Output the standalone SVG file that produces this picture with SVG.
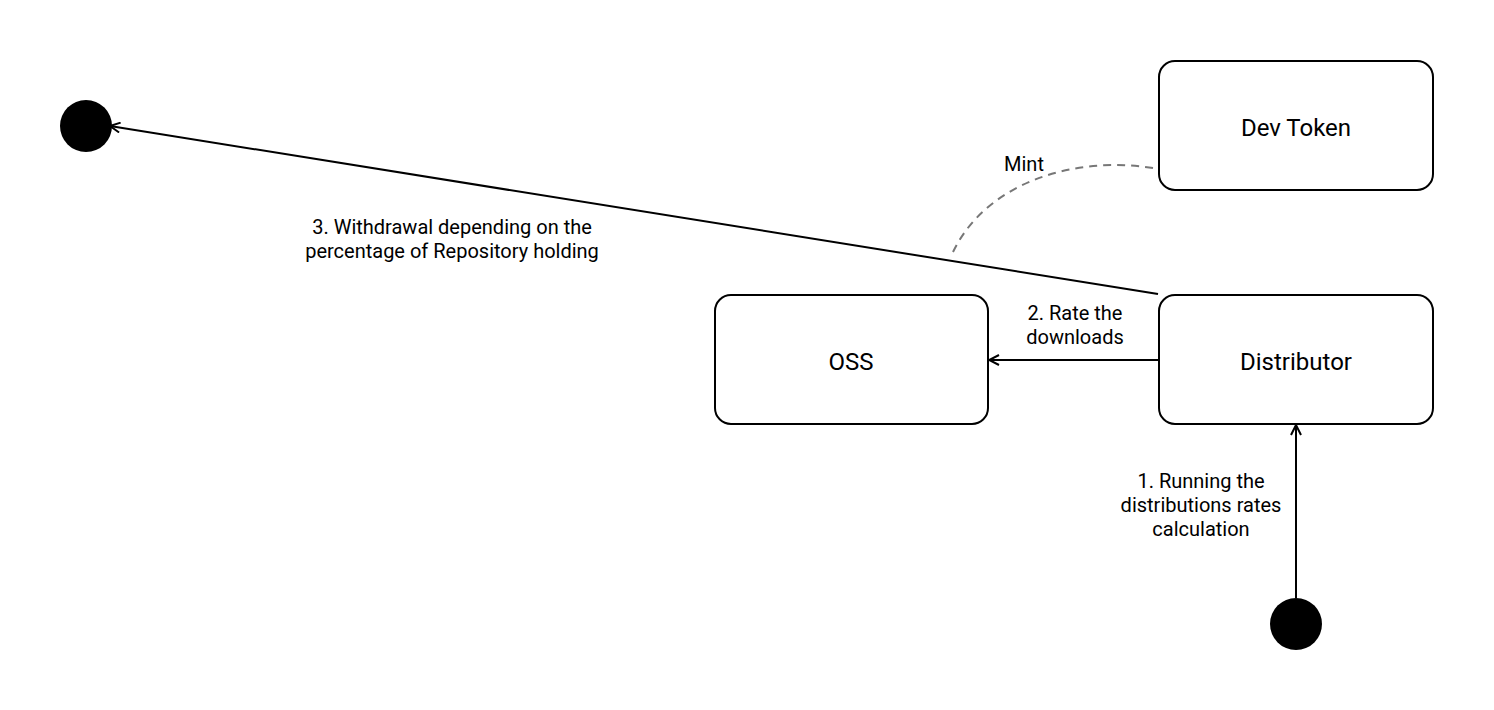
<svg xmlns="http://www.w3.org/2000/svg" width="1494" height="710" viewBox="0 0 1494 710">
<style>
.node{fill:#fff;stroke:#000;stroke-width:2}
.nt{font-family:Roboto,"Liberation Sans",sans-serif;font-size:24px;fill:#000;text-anchor:middle}
.lt{font-family:Roboto,"Liberation Sans",sans-serif;font-size:20px;fill:#000;text-anchor:middle}
.edge{fill:none;stroke:#000;stroke-width:2}
.dash{fill:none;stroke:#777;stroke-width:2;stroke-dasharray:8 6}
</style>
<defs>
<marker id="arr" viewBox="0 0 12 12" refX="11" refY="6" markerWidth="12" markerHeight="12" markerUnits="userSpaceOnUse" orient="auto">
<path d="M1,1 L11,6 L1,11" fill="none" stroke="#000" stroke-width="2"/>
</marker>
</defs>
<rect width="1494" height="710" fill="#fff"/>
<g id="connectors">
<path class="edge" d="M1158,294 L110,126" marker-end="url(#arr)"/>
<path class="edge" d="M1158,360 L989,360" marker-end="url(#arr)"/>
<path class="edge" d="M1296,598 L1296,425" marker-end="url(#arr)"/>
<path class="dash" d="M1153,168 C1070,155 985,185 953,252"/>
<text class="lt" x="452" y="234">3. Withdrawal depending on the</text>
<text class="lt" x="452" y="258">percentage of Repository holding</text>
<text class="lt" x="1075" y="320">2. Rate the</text>
<text class="lt" x="1075" y="344">downloads</text>
<text class="lt" x="1201" y="488">1. Running the</text>
<text class="lt" x="1201" y="512">distributions rates</text>
<text class="lt" x="1201" y="536">calculation</text>
<text class="lt" x="1024" y="171">Mint</text>
</g>
<g id="end-circle"><circle cx="86" cy="126" r="26" fill="#000"/></g>
<g id="start-circle"><circle cx="1296" cy="624" r="26" fill="#000"/></g>
<g id="dev-token"><rect class="node" x="1159" y="61" width="274" height="129" rx="16"/><text class="nt" x="1296" y="136">Dev Token</text></g>
<g id="oss"><rect class="node" x="715" y="295" width="273" height="129" rx="16"/><text class="nt" x="851" y="370">OSS</text></g>
<g id="distributor"><rect class="node" x="1159" y="295" width="274" height="129" rx="16"/><text class="nt" x="1296" y="370">Distributor</text></g>
</svg>
